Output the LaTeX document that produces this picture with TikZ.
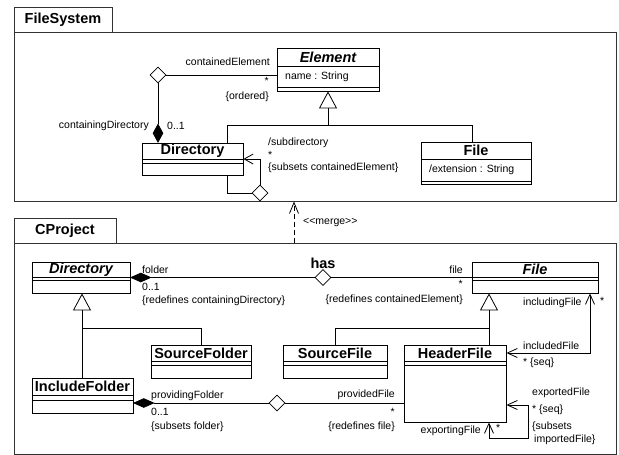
\documentclass[tikz,border=0pt]{standalone}
\usepackage{fontspec}
\setmainfont{Liberation Sans}
\usetikzlibrary{arrows.meta,shapes.geometric,fit}
\tikzset{
 lbl/.style={inner sep=0pt, font=\fontsize{10.5}{12}\selectfont},
 cname/.style={inner sep=0pt, font=\fontsize{14.5}{16}\selectfont\bfseries},
 aname/.style={inner sep=0pt, font=\fontsize{14.5}{16}\selectfont\bfseries\itshape},
 clsbox/.style={draw, inner sep=0pt, line width=0.8pt},
 pkgframe/.style={draw=black!80, inner sep=0pt, line width=0.9pt},
 compline/.style={line width=0.8pt},
 odiam/.style={diamond, draw, fill=white, inner sep=0pt, minimum width=16pt, minimum height=16pt, line width=0.8pt},
 fdiam/.style={diamond, draw, fill=black, inner sep=0pt, line width=0.8pt},
 gen/.style={-{Triangle[open,length=17pt,width=18pt]}},
 nav/.style={-{Straight Barb[length=9pt,width=10pt]}},
 navboth/.style={{Straight Barb[length=10pt,width=9pt]}-{Straight Barb[length=10pt,width=9pt]}},
 conn/.style={line width=0.8pt},
}
\begin{document}
\begin{tikzpicture}[x=1pt,y=-1pt]
\useasboundingbox (0,0) rectangle (619,455);

% ---------- FileSystem package ----------
\node[pkgframe, fit={(14,7) (112,32)}] (fsTab) {};
\node[cname] (fsTabT) at (63,19.5) {FileSystem};
\node[pkgframe, fit={(14,32) (616,201)}] (fsFrame) {};

% Element
\node[clsbox, fit={(277,48) (379,91)}] (elemFS) {};
\draw[compline] (277,66) -- (379,66);
\draw[compline] (277,87) -- (379,87);
\node[aname] (elemFST) at (328,57) {Element};
\node[lbl, anchor=west] (elemFSA) at (285,76.5) {name : String};

% Directory (FileSystem)
\node[clsbox, fit={(142,143) (243,175)}] (dirFS) {};
\draw[compline] (142,159) -- (243,159);
\draw[compline] (142,163) -- (243,163);
\node[cname] (dirFST) at (192.5,151) {Directory};

% File (FileSystem)
\node[clsbox, fit={(421,142) (531,184)}] (fileFS) {};
\draw[compline] (421,159) -- (531,159);
\draw[compline] (421,181) -- (531,181);
\node[cname] (fileFST) at (476,150.5) {File};
\node[lbl, anchor=west] (fileFSA) at (429,169.5) {/extension : String};

% containment Element/Directory
\node[odiam] (ceD) at (158,75) {};
\node[fdiam, minimum width=10pt, minimum height=18pt, anchor=south] (cdD) at (dirFS.north -| ceD) {};
\draw[conn] (ceD.east) -- (elemFS.west |- ceD);
\draw[conn] (ceD.south) -- (cdD.north);
\node[lbl, anchor=east] (l1) at (270,62) {containedElement};
\node[lbl, anchor=east] (l2) at (269,81) {*};
\node[lbl, anchor=east] (l3) at (269,97) {\{ordered\}};
\node[lbl, anchor=east] (l4) at (149,126) {containingDirectory};
\node[lbl, anchor=west] (l5) at (167,126) {0..1};

% generalization
\coordinate (g1) at (328,125);
\coordinate (g1L) at (227,125);
\coordinate (g1R) at (472,125);
\draw[conn, gen] (g1) -- (elemFS.south -| g1);
\draw[conn] (dirFS.north -| g1L) -- (g1L) -- (g1R) -- (fileFS.north -| g1R);

% subdirectory self association
\node[odiam] (sdD) at (260,193) {};
\draw[conn] (dirFS.south -| g1L) |- (sdD.west);
\draw[conn, nav] (sdD.north) |- (dirFS.east);
\node[lbl, anchor=west] (l6) at (268,143) {/subdirectory};
\node[lbl, anchor=west] (l7) at (268,155) {*};
\node[lbl, anchor=west] (l8) at (268,168) {\{subsets containedElement\}};

% ---------- CProject package ----------
\node[pkgframe, fit={(14,218) (116,243)}] (cpTab) {};
\node[cname] (cpTabT) at (65,230.5) {CProject};
\node[pkgframe, fit={(14,243) (616,454)}] (cpFrame) {};

% merge
\coordinate (mg) at (294,0);
\draw[conn, dash pattern=on 5pt off 3pt, -{Straight Barb[length=11pt,width=9pt]}] (cpFrame.north -| mg) -- (fsFrame.south -| mg);
\node[lbl, anchor=west] (mergeL) at (303,223) {<{}<merge>{}>};

% Directory (CProject)
\node[clsbox, fit={(32,262) (130,293)}] (dirCP) {};
\draw[compline] (32,277) -- (130,277);
\draw[compline] (32,280) -- (130,280);
\node[aname] (dirCPT) at (81,269.5) {Directory};

% File (CProject)
\node[clsbox, fit={(472,262) (598,293)}] (fileCP) {};
\draw[compline] (472,277) -- (598,277);
\draw[compline] (472,280) -- (598,280);
\node[aname] (fileCPT) at (535,269.5) {File};

% SourceFolder
\node[clsbox, fit={(151,345) (251,378)}] (srcFolder) {};
\draw[compline] (151,361) -- (251,361);
\draw[compline] (151,365) -- (251,365);
\node[cname] (srcFolderT) at (201,353) {SourceFolder};

% SourceFile
\node[clsbox, fit={(283,345) (387,378)}] (srcFile) {};
\draw[compline] (283,361) -- (387,361);
\draw[compline] (283,365) -- (387,365);
\node[cname] (srcFileT) at (335,353) {SourceFile};

% HeaderFile
\node[clsbox, fit={(404,345) (506,422)}] (hdr) {};
\draw[compline] (404,361) -- (506,361);
\draw[compline] (404,365) -- (506,365);
\node[cname] (hdrT) at (455,353) {HeaderFile};

% IncludeFolder
\node[clsbox, fit={(32,378) (133,413)}] (incF) {};
\draw[compline] (32,395) -- (133,395);
\draw[compline] (32,400) -- (133,400);
\node[cname] (incFT) at (82.5,386.5) {IncludeFolder};

% has association
\node[fdiam, minimum width=20pt, minimum height=9pt, anchor=west] (hasF) at (dirCP.east) {};
\node[odiam] (hasD) at (323,277.5) {};
\draw[conn] (hasF.east) -- (hasD.west);
\draw[conn] (hasD.east) -- (fileCP.west |- hasD);
\node[cname] (hasT) at (323,263) {has};
\node[lbl, anchor=west] (l9) at (142,270) {folder};
\node[lbl, anchor=west] (l10) at (142,287) {0..1};
\node[lbl, anchor=west] (l11) at (142,301) {\{redefines containingDirectory\}};
\node[lbl, anchor=east] (l12) at (463,270) {file};
\node[lbl, anchor=east] (l13) at (463,284) {*};
\node[lbl, anchor=east] (l14) at (463,300) {\{redefines containedElement\}};

% generalizations in CProject
\coordinate (g2) at (489,328);
\coordinate (g2L) at (335,328);
\draw[conn, gen] (g2) -- (fileCP.south -| g2);
\draw[conn] (srcFile.north -| g2L) -- (g2L) -- (g2) -- (hdr.north -| g2);
\coordinate (g3) at (82,328);
\coordinate (g3R) at (201,328);
\draw[conn, gen] (incF.north -| g3) -- (dirCP.south -| g3);
\draw[conn] (g3) -- (g3R) -- (srcFolder.north -| g3R);

% includedFile / includingFile
\coordinate (k1) at (590,353);
\draw[conn, navboth] (hdr.east |- k1) -- (k1) -- (fileCP.south -| k1);
\node[lbl, anchor=west] (l15) at (523,303) {includingFile};
\node[lbl, anchor=west] (l16) at (600,301) {*};
\node[lbl, anchor=west] (l17) at (523,346) {includedFile};
\node[lbl, anchor=west] (l18) at (523,363) {* \{seq\}};

% exportedFile / exportingFile
\coordinate (k2) at (528,405);
\coordinate (k3) at (489,438);
\draw[conn, navboth] (hdr.east |- k2) -- (k2) |- (k3) -- (hdr.south -| k3);
\node[lbl, anchor=west] (l19) at (532,393) {exportedFile};
\node[lbl, anchor=west] (l20) at (532,410) {* \{seq\}};
\node[lbl, anchor=west] (l21) at (532,427) {\{subsets};
\node[lbl, anchor=west] (l22) at (534,440) {importedFile\}};
\node[lbl, anchor=east] (l23) at (481,431) {exportingFile};
\node[lbl, anchor=west] (l24) at (496,428) {*};

% providingFolder / providedFile
\coordinate (pp) at (0,403);
\node[fdiam, minimum width=20pt, minimum height=9pt, anchor=west] (prF) at (incF.east |- pp) {};
\node[odiam] (prD) at (277,403) {};
\draw[conn] (prF.east) -- (prD.west);
\draw[conn] (prD.east) -- (hdr.west |- prD);
\node[lbl, anchor=west] (l25) at (151,396) {providingFolder};
\node[lbl, anchor=west] (l26) at (151,412) {0..1};
\node[lbl, anchor=west] (l27) at (151,427) {\{subsets folder\}};
\node[lbl, anchor=east] (l28) at (395,395) {providedFile};
\node[lbl, anchor=east] (l29) at (395,412) {*};
\node[lbl, anchor=east] (l30) at (395,427) {\{redefines file\}};
\end{tikzpicture}
\end{document}
